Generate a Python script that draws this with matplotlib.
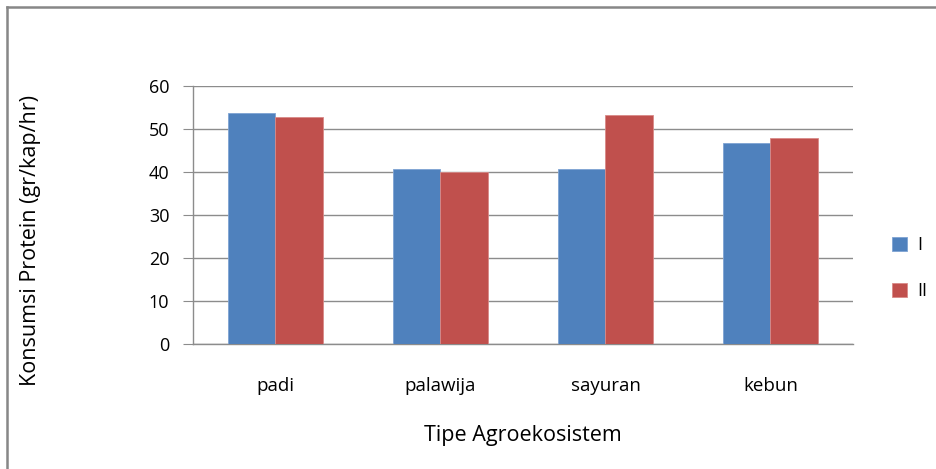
import matplotlib
matplotlib.use("Agg")
import matplotlib.pyplot as plt
from matplotlib.lines import Line2D
import numpy as np

categories = ["padi", "palawija", "sayuran", "kebun"]
series_names = ["I", "II"]
values_I = [53.7, 40.8, 40.8, 46.7]
values_II = [52.7, 40.1, 53.3, 48.0]
yticks = [0, 10, 20, 30, 40, 50, 60]

plt.rcParams['font.family'] = ['Open Sans', 'DejaVu Sans']

W, H = 937, 469
fig = plt.figure(figsize=(W / 100, H / 100), dpi=100)

# outer chart border (top and left visible)
fig.add_artist(Line2D([7 / W, 7 / W], [0, 1 - 7 / H], transform=fig.transFigure,
                      color="#878787", lw=1.8))
fig.add_artist(Line2D([7 / W, 1], [1 - 7 / H, 1 - 7 / H], transform=fig.transFigure,
                      color="#878787", lw=1.8))

left, right, top, bottom = 193, 853, 86, 344
ax = fig.add_axes([left / W, 1 - bottom / H, (right - left) / W, (bottom - top) / H])

x = np.arange(len(categories))
bw = 0.285
blue = "#4F81BD"
red = "#C0504D"
ax.bar(x - bw / 2, values_I, bw, color=blue, edgecolor="#7EA3D3", linewidth=0.6,
       label=series_names[0], zorder=3)
ax.bar(x + bw / 2, values_II, bw, color=red, edgecolor="#D88A88", linewidth=0.6,
       label=series_names[1], zorder=3)

ax.set_xlim(-0.5, len(categories) - 0.5)
ax.set_ylim(0, 60)
ax.set_yticks(yticks)
ax.set_xticks(x)
ax.set_xticklabels(categories)
ax.yaxis.grid(True, color="#8C8C8C", lw=1.0, zorder=0)
for s in ["top", "right"]:
    ax.spines[s].set_visible(False)
for s in ["left", "bottom"]:
    ax.spines[s].set_color("#8C8C8C")
    ax.spines[s].set_linewidth(1.0)
ax.tick_params(axis="y", length=7, color="#8C8C8C", labelsize=13, pad=10)
ax.tick_params(axis="x", length=0, labelsize=13.5, pad=24)

ax.set_xlabel("Tipe Agroekosistem", fontsize=15.5, labelpad=21)
fig.text(31 / W, 1 - 240 / H, "Konsumsi Protein (gr/kap/hr)", rotation=90,
         fontsize=15.5, ha="center", va="center")

leg = ax.legend(loc="center left", bbox_to_anchor=(1.035, 0.295), frameon=False,
                fontsize=13, handlelength=0.8, handleheight=0.8, handletextpad=0.6,
                labelspacing=1.55)

fig.savefig("out.png", dpi=100)
